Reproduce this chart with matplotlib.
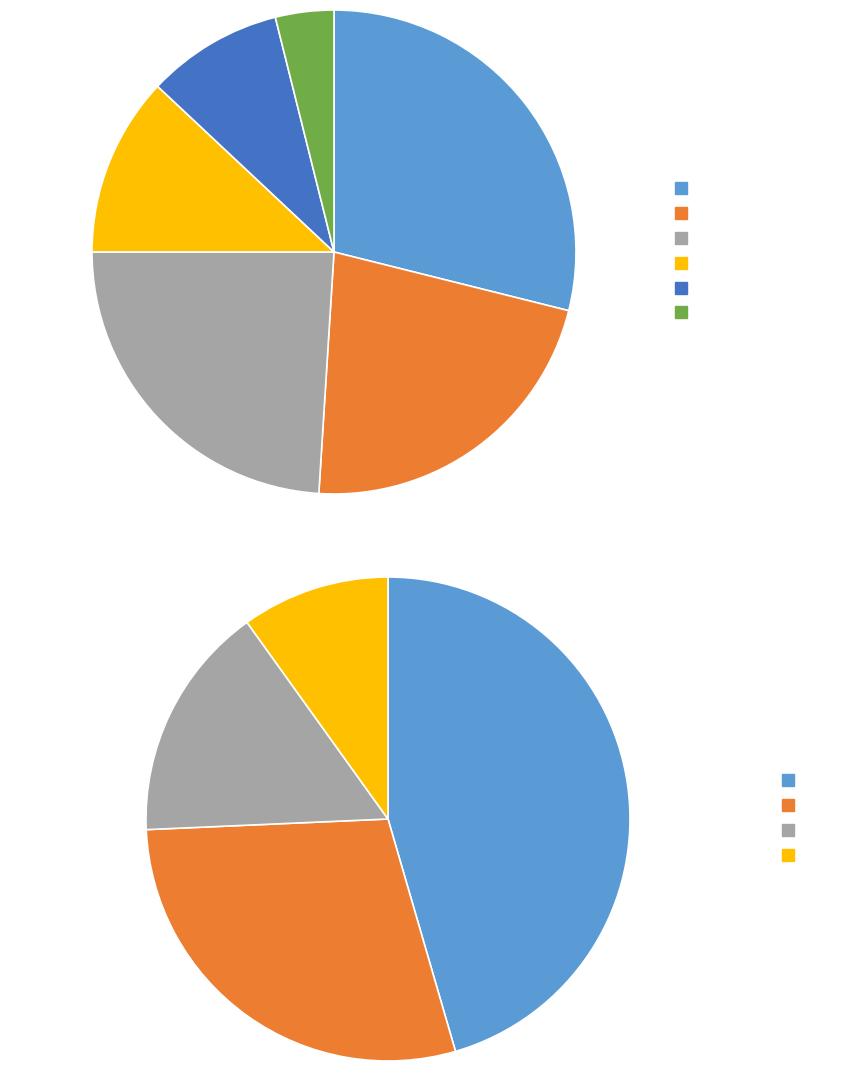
import matplotlib
matplotlib.use("Agg")
import matplotlib.pyplot as plt
from matplotlib.lines import Line2D

# slice shares (percent)
top_values = [28.9, 22.1, 24.0, 12.0, 9.1, 3.9]
top_colors = ["#5B9BD5", "#ED7D31", "#A5A5A5", "#FFC000", "#4472C4", "#70AD47"]
bottom_values = [45.5, 28.8, 15.8, 9.9]
bottom_colors = ["#5B9BD5", "#ED7D31", "#A5A5A5", "#FFC000"]

W, H = 865, 1071
fig = plt.figure(figsize=(W / 100, H / 100), dpi=100)


def px_axes(cx, cy, r):
    # axes box in pixel coords (top-left origin) -> figure fraction
    return fig.add_axes([(cx - r) / W, 1 - (cy + r) / H, 2 * r / W, 2 * r / H])


def draw_pie(ax, values, colors):
    ax.pie(values, colors=colors, startangle=90, counterclock=False,
           wedgeprops=dict(edgecolor="white", linewidth=1.2))
    ax.set_xlim(-1, 1)
    ax.set_ylim(-1, 1)
    ax.set_aspect("equal")
    ax.axis("off")


def draw_legend(colors, x, y):
    handles = [Line2D([], [], marker="s", linestyle="none", markersize=8.5,
                      markerfacecolor=c, markeredgecolor=c) for c in colors]
    fig.legend(handles, [" "] * len(colors), loc="upper left",
               bbox_to_anchor=(x / W, 1 - y / H), frameon=False,
               fontsize=12, handlelength=0.7, labelspacing=0.41,
               borderaxespad=0, borderpad=0, handletextpad=0.3)


ax1 = px_axes(334, 252, 242)
draw_pie(ax1, top_values, top_colors)
ax2 = px_axes(388, 819, 242)
draw_pie(ax2, bottom_values, bottom_colors)

draw_legend(top_colors, 675, 180)
draw_legend(bottom_colors, 782, 772)

fig.savefig("out.png", dpi=100)
